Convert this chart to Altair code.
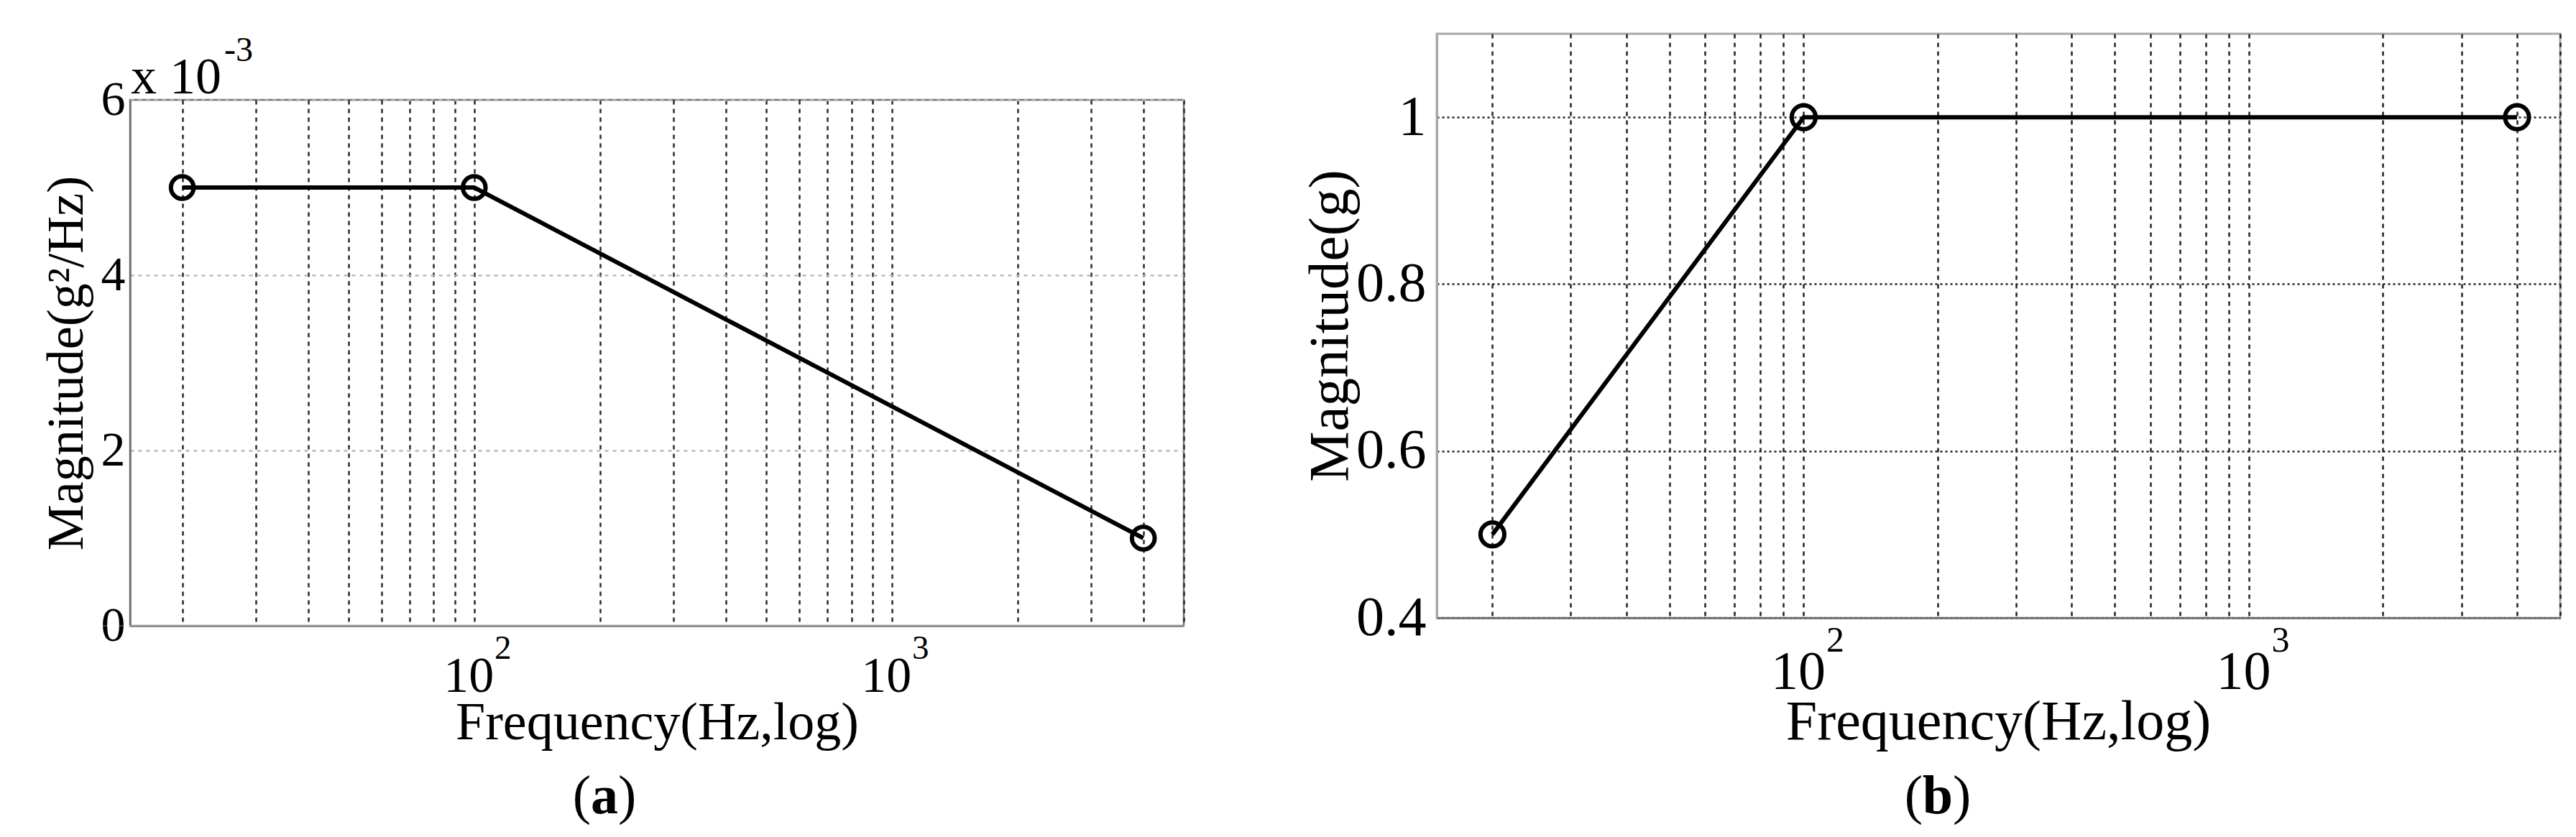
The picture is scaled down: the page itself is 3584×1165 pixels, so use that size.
import altair as alt
import pandas as pd

# ---- data ----
freq = [20, 100, 4000]                 # Hz
psd_a = [5e-3, 5e-3, 1e-3]             # g^2/Hz
mag_b = [0.5, 1.0, 1.0]                # g
grid_freqs = [20, 30, 40, 50, 60, 70, 80, 90,
              100, 200, 300, 400, 500, 600, 700, 800, 900,
              1000, 2000, 3000, 4000, 5000]
decades = [100, 1000]
exponents = ["2", "3"]
yticks_a = [0, 0.002, 0.004, 0.006]
yticks_b = [0.4, 0.6, 0.8, 1.0]

FONT = "Liberation Serif"
X_DOMAIN = [15, 5000]

df_a = pd.DataFrame({"freq": freq, "val": psd_a})
df_b = pd.DataFrame({"freq": freq, "val": mag_b})
df_sup = pd.DataFrame({"freq": decades, "exp": exponents})
one = pd.DataFrame({"k": [0]})

W_A, H_A = 1466, 732
W_B, H_B = 1563, 813
DROP_A = 92   # panel (a) sits lower than panel (b)


def x_axis(label_size, label_pad, title_size, title_x, title_y, grid_color):
    return alt.Axis(
        values=grid_freqs,
        labelExpr="(datum.value == 100 || datum.value == 1000) ? '10' : ''",
        labelFont=FONT, labelFontSize=label_size, labelColor="black",
        labelBaseline="alphabetic", labelPadding=label_pad, labelOffset=-8,
        labelOverlap=False, labelFlush=False,
        ticks=False, tickSize=0,
        grid=True, gridColor=grid_color, gridDash=[6, 6], gridWidth=2.5,
        domainColor="#6f6f6f", domainWidth=2.5,
        title="Frequency(Hz,log)", titleFont=FONT, titleFontSize=title_size,
        titleFontWeight="normal", titleColor="black",
        titleX=title_x, titleY=title_y, titleAlign="center",
        titleBaseline="alphabetic",
    )


# ---------------- panel (a) ----------------
base_a = alt.Chart(df_a)
xa = alt.X("freq:Q", scale=alt.Scale(type="log", domain=X_DOMAIN, nice=False),
           axis=x_axis(70, 91, 74, 733, 157, "#2a2a2a"))
ya = alt.Y("val:Q", scale=alt.Scale(domain=[0, 0.006], nice=False, zero=False),
           axis=alt.Axis(
               values=yticks_a,
               labelExpr="format(datum.value*1000, '.0f')",
               labelFont=FONT, labelFontSize=68, labelColor="black",
               labelPadding=7, labelBaseline="middle",
               ticks=False, tickSize=0,
               grid=True, gridColor="#b8b8b8", gridDash=[5, 6], gridWidth=2.5,
               domainColor="#6f6f6f", domainWidth=2.5,
               title="Magnitude(g²/Hz)", titleFont=FONT, titleFontSize=72,
               titleFontWeight="normal", titleColor="black",
               titleAngle=270, titleX=-67, titleY=366,
               titleAlign="center", titleBaseline="alphabetic"))

line_a = base_a.mark_line(color="black", strokeWidth=6).encode(x=xa, y=ya)
pts_a = base_a.mark_point(shape="circle", filled=False, size=1000, color="black",
                          strokeWidth=6, opacity=1).encode(x="freq:Q", y="val:Q")
sup_a = alt.Chart(df_sup).mark_text(font=FONT, fontSize=47, align="center",
                                    baseline="alphabetic", dx=40, color="black").encode(
    x="freq:Q", y=alt.value(H_A + 46), text="exp:N")
mult_a = alt.Chart(one).mark_text(text="x 10", font=FONT, fontSize=72, align="left",
                                  baseline="alphabetic", color="black").encode(
    x=alt.value(1), y=alt.value(-9))
mult_exp_a = alt.Chart(one).mark_text(text="-3", font=FONT, fontSize=48, align="left",
                                      baseline="alphabetic", color="black").encode(
    x=alt.value(131), y=alt.value(-54))
cap_a1 = alt.Chart(one).mark_text(text="(", font=FONT, fontSize=76, align="right",
                                  baseline="alphabetic", color="black").encode(
    x=alt.value(641), y=alt.value(993))
cap_a2 = alt.Chart(one).mark_text(text="a", font=FONT, fontSize=76, fontWeight="bold",
                                  align="center", baseline="alphabetic", color="black").encode(
    x=alt.value(660), y=alt.value(993))
cap_a3 = alt.Chart(one).mark_text(text=")", font=FONT, fontSize=76, align="left",
                                  baseline="alphabetic", color="black").encode(
    x=alt.value(679), y=alt.value(993))
bound_a = alt.Chart(one).mark_rule(color="white", strokeWidth=0.5).encode(
    x=alt.value(-171), x2=alt.value(1521), y=alt.value(H_A), y2=alt.value(H_A))

panel_a = alt.layer(bound_a, line_a, pts_a, sup_a, mult_a, mult_exp_a,
                    cap_a1, cap_a2, cap_a3).properties(
    width=W_A, height=H_A,
    view=alt.ViewBackground(stroke="#6f6f6f", strokeWidth=2.5))

spacer_a = alt.Chart(one).mark_rule(color="white", strokeWidth=0.5).encode(
    x=alt.value(0), x2=alt.value(1), y=alt.value(0), y2=alt.value(1)).properties(
    width=W_A, height=DROP_A,
    view=alt.ViewBackground(strokeOpacity=0, fillOpacity=0))

left_cell = alt.vconcat(spacer_a, panel_a, spacing=0, bounds="flush")

# ---------------- panel (b) ----------------
base_b = alt.Chart(df_b)
xb = alt.X("freq:Q", scale=alt.Scale(type="log", domain=X_DOMAIN, nice=False),
           axis=x_axis(76, 98, 78, 781, 168, "#222222"))
yb = alt.Y("val:Q", scale=alt.Scale(domain=[0.4, 1.1], nice=False, zero=False),
           axis=alt.Axis(
               values=yticks_b,
               labelExpr="datum.value == 1 ? '1' : format(datum.value, '.1f')",
               labelFont=FONT, labelFontSize=78, labelColor="black",
               labelPadding=15, labelBaseline="middle",
               ticks=False, tickSize=0,
               grid=True, gridColor="#222222", gridDash=[3, 4], gridWidth=2.5,
               domainColor="#a8a8a8", domainWidth=3,
               title="Magnitude(g)", titleFont=FONT, titleFontSize=79,
               titleFontWeight="normal", titleColor="black",
               titleAngle=270, titleX=-125, titleY=406,
               titleAlign="center", titleBaseline="alphabetic"))

line_b = base_b.mark_line(color="black", strokeWidth=6).encode(x=xb, y=yb)
pts_b = base_b.mark_point(shape="circle", filled=False, size=1100, color="black",
                          strokeWidth=6, opacity=1).encode(x="freq:Q", y="val:Q")
sup_b = alt.Chart(df_sup).mark_text(font=FONT, fontSize=50, align="center",
                                    baseline="alphabetic", dx=44, color="black").encode(
    x="freq:Q", y=alt.value(H_B + 47), text="exp:N")
cap_b1 = alt.Chart(one).mark_text(text="(", font=FONT, fontSize=76, align="right",
                                  baseline="alphabetic", color="black").encode(
    x=alt.value(676), y=alt.value(1085))
cap_b2 = alt.Chart(one).mark_text(text="b", font=FONT, fontSize=76, fontWeight="bold",
                                  align="center", baseline="alphabetic", color="black").encode(
    x=alt.value(697), y=alt.value(1085))
cap_b3 = alt.Chart(one).mark_text(text=")", font=FONT, fontSize=76, align="left",
                                  baseline="alphabetic", color="black").encode(
    x=alt.value(718), y=alt.value(1085))
bound_b = alt.Chart(one).mark_rule(color="white", strokeWidth=0.5).encode(
    x=alt.value(-293), x2=alt.value(-292), y=alt.value(-37), y2=alt.value(-37))

panel_b = alt.layer(bound_b, line_b, pts_b, sup_b, cap_b1, cap_b2, cap_b3).properties(
    width=W_B, height=H_B,
    view=alt.ViewBackground(stroke="#a8a8a8", strokeWidth=3))

chart = alt.hconcat(left_cell, panel_b, spacing=0).properties(
    padding=0, background="white")

chart.save("out.html", embed_options={"renderer": "svg", "actions": False})
